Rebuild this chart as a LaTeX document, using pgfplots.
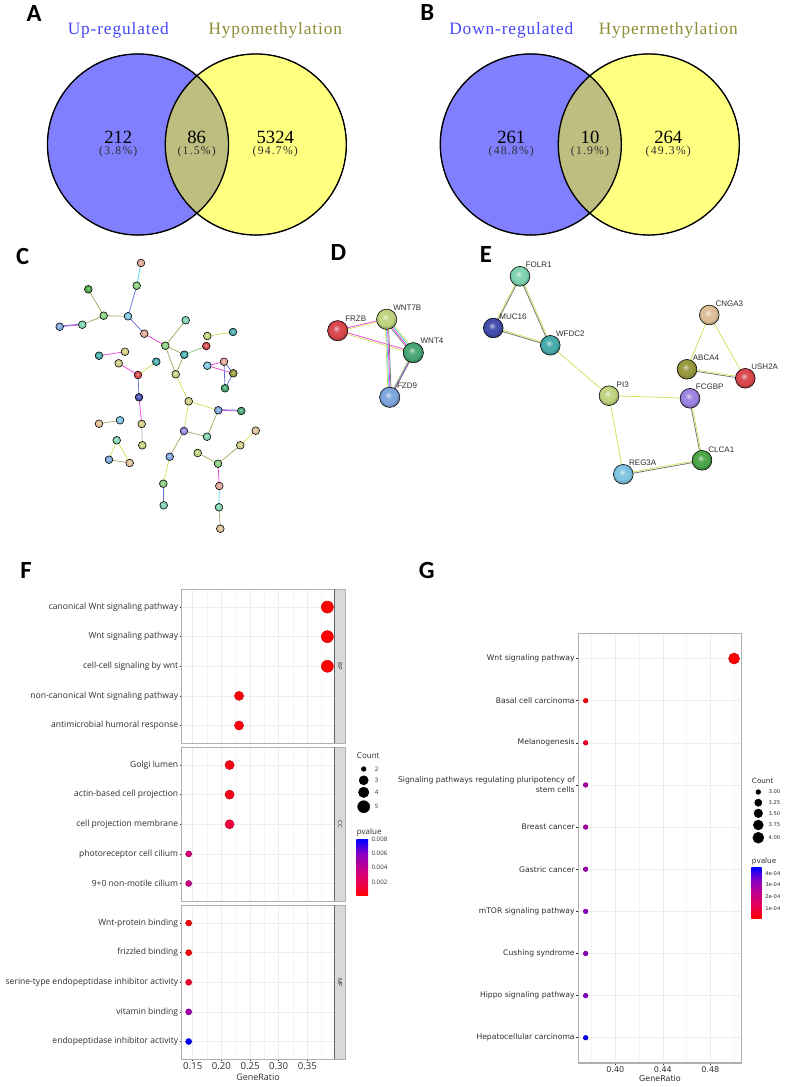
\documentclass[border=0pt]{standalone}
\usepackage{fontspec}
\setmainfont{Open Sans}
\newfontfamily\vennfont{Liberation Serif}
\newfontfamily\arialfont{Liberation Sans}
\newfontfamily\dejavu{DejaVu Sans}
\newfontfamily\panelfont{Carlito}
\usepackage{pgfplots}
\pgfplotsset{compat=1.18}
\usetikzlibrary{shadings}

\definecolor{venblue}{RGB}{128,128,255}
\definecolor{venyel}{RGB}{255,255,128}
\definecolor{venmix}{RGB}{190,190,128}
\definecolor{tblue}{RGB}{70,70,250}
\definecolor{tolive}{RGB}{140,140,50}
\definecolor{txt}{RGB}{45,45,45}
\definecolor{framegr}{RGB}{175,175,175}
\definecolor{stripgr}{RGB}{217,217,217}
\definecolor{edy}{RGB}{205,225,90}
\definecolor{edg}{RGB}{110,110,110}
\definecolor{edm}{RGB}{235,70,225}
\definecolor{edc}{RGB}{80,210,235}
\definecolor{edo}{RGB}{165,170,100}
\definecolor{edb}{RGB}{100,110,215}

\definecolor{nred}{RGB}{215,70,75}
\definecolor{nsal}{RGB}{225,165,150}
\definecolor{ntan}{RGB}{220,190,150}
\definecolor{nkha}{RGB}{205,205,130}
\definecolor{nyel}{RGB}{190,210,125}
\definecolor{noli}{RGB}{150,150,60}
\definecolor{ngre}{RGB}{135,205,125}
\definecolor{ndgr}{RGB}{75,165,70}
\definecolor{nsea}{RGB}{70,165,115}
\definecolor{nmin}{RGB}{125,210,175}
\definecolor{ntea}{RGB}{70,170,170}
\definecolor{nsky}{RGB}{125,195,225}
\definecolor{nblu}{RGB}{125,165,220}
\definecolor{nnav}{RGB}{65,75,170}
\definecolor{npur}{RGB}{155,130,225}

% red to blue the way ggplot runs it, through magenta
\definecolor{rb0}{RGB}{255,0,0}
\definecolor{rb1}{RGB}{232,0,85}
\definecolor{rb2}{RGB}{194,0,140}
\definecolor{rb3}{RGB}{135,0,198}
\definecolor{rb4}{RGB}{0,0,255}
\pgfdeclareverticalshading{rbbar}{100bp}{color(0bp)=(rb0); color(25bp)=(rb0); color(37.5bp)=(rb1); color(50bp)=(rb2); color(62.5bp)=(rb3); color(75bp)=(rb4); color(100bp)=(rb4)}

% paler glossy balls than the stock ball shading
\makeatletter
\pgfdeclareradialshading[tikz@ball]{ball}{\pgfqpoint{-4bp}{6bp}}{color(0bp)=(tikz@ball!35!white); color(9bp)=(tikz@ball!95!white); color(19bp)=(tikz@ball); color(25bp)=(tikz@ball!78!black); color(50bp)=(black)}
\makeatother

% network helpers, all in reference pixels on the canvas axis
\newcommand{\edge}[6][]{\addplot[no marks,forget plot,color=#6,line width=0.55pt,#1] coordinates {(#2,#3) (#4,#5)};}
\newcommand{\ball}[4]{\addplot[only marks,forget plot,mark=ball,mark size=#3pt,ball color=#4] coordinates {(#1,#2)};}
\newcommand{\glabel}[3]{\node[font=\arialfont\fontsize{6}{7}\selectfont,text=txt] at (axis cs:#1,#2) {#3};}
\newcommand{\plabel}[3]{\node[font=\panelfont\bfseries\fontsize{18.5}{20}\selectfont] at (axis cs:#1,#2) {#3};}
\newcommand{\vtitle}[4]{\node[font=\vennfont\fontsize{13}{15}\selectfont\addfontfeature{LetterSpace=5},text=#4] at (axis cs:#1,#2) {#3};}
\newcommand{\vcount}[3]{\node[inner sep=0pt,font=\vennfont\fontsize{14}{14}\selectfont] at (axis cs:#1,137.5) {#2};
  \node[inner sep=0pt,font=\vennfont\fontsize{8.8}{8.8}\selectfont\addfontfeature{LetterSpace=10},text=txt] at (axis cs:#1,151.5) {#3};}
% marks go on top of everything else in one axis, so discs get their own axis
\newcommand{\venndiscs}[2]{%
  \addplot[only marks,forget plot,mark=*,mark size=67.9pt,mark options={fill=venblue,draw=none}] coordinates {(#1,144.5)};
  \addplot[only marks,forget plot,mark=*,mark size=67.9pt,mark options={fill=venyel,draw=none}] coordinates {(#2,144.5)};
}
\newcommand{\vennlens}[2]{%
  \fill[venmix] (axis cs:{(#1+#2)/2},75.9) arc[start angle=49.3,end angle=-49.3,radius=67.9pt]
     arc[start angle=229.3,end angle=130.7,radius=67.9pt] -- cycle;
  \addplot[only marks,forget plot,mark=o,mark size=67.9pt,mark options={draw=black,line width=1pt}] coordinates {(#1,144.5)};
  \addplot[only marks,forget plot,mark=o,mark size=67.9pt,mark options={draw=black,line width=1pt}] coordinates {(#2,144.5)};
}
\newcommand{\legdot}[3]{\addplot[only marks,forget plot,mark=*,mark size=#3pt,black] coordinates {(#1,#2)};}
\newcommand{\ftxt}[4]{\node[anchor=west,inner sep=0pt,font=\fontsize{#4}{#4}\selectfont,text=txt] at (axis cs:#1,#2) {#3};}
\newcommand{\gtxt}[4]{\node[anchor=west,inner sep=0pt,font=\dejavu\fontsize{#4}{#4}\selectfont,text=txt] at (axis cs:#1,#2) {#3};}

\pgfplotsset{
  canvas/.style={
    at={(0,0)},anchor=south west,
    scale only axis,width=590.25pt,height=815.25pt,
    xmin=0,xmax=787,ymin=0,ymax=1087,y dir=reverse,
    hide axis,clip=false,
  },
  dotplot/.style={
    scale only axis,
    tick align=outside,
    xtick pos=bottom,
    ytick pos=left,
    major tick length=1.5pt,
    minor tick length=0pt,
    tick style={color=txt,line width=0.4pt},
    axis line style={draw=framegr,line width=0.9pt},
    grid=both,
    major grid style={draw=black!7,line width=0.4pt},
    minor grid style={draw=black!4,line width=0.3pt},
    colormap={rbgg}{rgb255=(255,0,0) rgb255=(232,0,85) rgb255=(194,0,140) rgb255=(135,0,198) rgb255=(0,0,255)},
    y dir=reverse,
    yticklabel style={text=txt,inner sep=1pt},
    xticklabel style={text=txt,inner sep=1pt,/pgf/number format/fixed,/pgf/number format/fixed zerofill,/pgf/number format/precision=2,/pgf/number format/assume math mode=true},
  },
  fpanel/.style={
    dotplot,
    width=114.45pt,height=115.5pt,
    xmin=0.1308,xmax=0.3971,ymin=0.4,ymax=5.6,
    xtick={0.15,0.20,0.25,0.30,0.35},
    minor xtick={0.175,0.225,0.275,0.325,0.375},
    ytick={1,2,3,4,5},
    point meta min=0,point meta max=0.008,
    yticklabel style={font=\fontsize{6.4}{8}\selectfont},
    after end axis/.code={\draw[color=black!60,line width=0.9pt] (rel axis cs:1,0) -- (rel axis cs:1,1);},
  },
  dots/.style={
    scatter,only marks,mark=*,scatter src=explicit,
    visualization depends on={\thisrow{r} \as \dotr},
    scatter/@pre marker code/.append style={/tikz/mark size=\dotr},
  },
  cbar/.style={
    scale only axis,
    xmin=0,xmax=1,xtick=\empty,
    axis line style={draw=none},
    tick align=inside,ytick pos=both,yticklabel pos=right,
    major tick length=2.2pt,
    tick style={color=white,line width=0.3pt},
    scaled y ticks=false,
    yticklabel style={font=\fontsize{4.6}{5}\selectfont,text=txt,inner sep=1pt,xshift=1.5pt},
  },
}

\begin{document}
\begin{tikzpicture}
\useasboundingbox (0,0) rectangle (590.25pt,815.25pt);

% A and B, flat discs first
\begin{axis}[canvas]
\venndiscs{138}{255.8}
\venndiscs{530.8}{648.8}
\end{axis}
\begin{axis}[canvas]
\vennlens{138}{255.8}
\vennlens{530.8}{648.8}
\vtitle{118.3}{30.5}{Up-regulated}{tblue}
\vtitle{275.3}{30.5}{Hypomethylation}{tolive}
\vtitle{511.3}{30.5}{Down-regulated}{tblue}
\vtitle{668.3}{30.5}{Hypermethylation}{tolive}
\vcount{118.3}{212}{(3.8\%)}
\vcount{196.7}{86}{(1.5\%)}
\vcount{275.3}{5324}{(94.7\%)}
\vcount{511.3}{261}{(48.8\%)}
\vcount{590}{10}{(1.9\%)}
\vcount{668.3}{264}{(49.3\%)}
\end{axis}

% everything else that is not a dot plot lives on the pixel-sized canvas
\begin{axis}[canvas]
\plabel{34}{13.5}{A}
\plabel{427.3}{13}{B}
\plabel{22.7}{256}{C}
\plabel{338.3}{252.7}{D}
\plabel{486}{255}{E}
\plabel{26}{570}{F}
\plabel{426.7}{570}{G}

% C
\edge{141}{263}{136.7}{285.7}{edc}
\edge{136.7}{285.7}{128}{316.3}{edb}
\edge{128}{316.3}{103.7}{315.7}{edo}
\edge{88.3}{289.3}{103.7}{315.7}{edo}
\edge{103.7}{315.7}{82.3}{324.7}{edo}
\edge{82.3}{324.7}{59.7}{326.7}{edm}
\edge[yshift=0.5pt]{82.3}{324.7}{59.7}{326.7}{edb}
\edge{128}{316.3}{144.3}{333.7}{edb}
\edge{144.3}{333.7}{165.3}{345.7}{edm}
\edge{165.3}{345.7}{185.7}{320.3}{edo}
\edge{165.3}{345.7}{184.3}{354.7}{edo}
\edge{165.3}{345.7}{175.7}{374.3}{edo}
\edge{184.3}{354.7}{175.7}{374.3}{edo}
\edge{184.3}{354.7}{206.3}{346}{ngre}
\edge{207.3}{336}{233}{332}{edy}
\edge{99}{355.7}{125}{351.7}{edm}
\edge{118.7}{363.3}{138}{375}{edm}
\edge{156.3}{361.7}{138}{375}{edy}
\edge{138}{375}{139}{397.3}{edb}
\edge{139}{397.3}{141.7}{424}{edm}
\edge{141.7}{424}{142.3}{445.3}{framegr}
\edge{175.7}{374.3}{188.7}{401.3}{edy}
\edge{188.7}{401.3}{218.3}{410.3}{edy}
\edge{188.7}{401.3}{184}{431}{edy}
\edge{218.3}{410.3}{241.3}{411}{edm}
\edge[yshift=0.5pt]{218.3}{410.3}{241.3}{411}{edb}
\edge{218.3}{410.3}{207}{436.7}{edo}
\edge{184}{431}{207}{436.7}{edo}
\edge{184}{431}{169.7}{456.7}{edo}
\edge{169.7}{456.7}{163.3}{483.7}{edy}
\edge{163.3}{483.7}{163.7}{505.3}{edb}
\edge{99}{423.7}{120}{420.3}{edo}
\edge{116.7}{440.3}{109}{459.7}{edy}
\edge{116.7}{440.3}{129.7}{463}{edy}
\edge{109}{459.7}{129.7}{463}{edo}
\edge{197.7}{453}{218}{463.7}{edo}
\edge{218}{463.7}{240.3}{445.3}{edo}
\edge{240.3}{445.3}{255.7}{430.7}{edy}
\edge{218}{463.7}{219.3}{486}{edm}
\edge{219.3}{486}{219}{507.3}{edc}
\edge{219}{507.3}{220.3}{528.7}{edo}
\edge{207.3}{365.7}{224}{361.7}{edm}
\edge{207.3}{365.7}{233.3}{373.3}{edm}
\edge{224}{361.7}{233.3}{373.3}{edb}
\edge{224}{361.7}{225}{388.3}{edb}
\edge{233.3}{373.3}{225}{388.3}{edb}

\ball{141}{263}{2.9}{nsal}
\ball{136.7}{285.7}{2.9}{ngre}
\ball{128}{316.3}{2.9}{nsky}
\ball{88.3}{289.3}{2.9}{ndgr}
\ball{103.7}{315.7}{2.9}{ngre}
\ball{82.3}{324.7}{2.9}{nmin}
\ball{59.7}{326.7}{2.9}{nblu}
\ball{144.3}{333.7}{2.9}{nsal}
\ball{165.3}{345.7}{2.9}{ngre}
\ball{185.7}{320.3}{2.9}{nmin}
\ball{184.3}{354.7}{2.9}{ntea}
\ball{206.3}{346}{2.9}{nred}
\ball{207.3}{336}{2.9}{nyel}
\ball{233}{332}{2.9}{ntea}
\ball{99}{355.7}{2.9}{ntea}
\ball{125}{351.7}{2.9}{nkha}
\ball{118.7}{363.3}{2.9}{nkha}
\ball{156.3}{361.7}{2.9}{ntea}
\ball{138}{375}{2.9}{nred}
\ball{175.7}{374.3}{2.9}{nyel}
\ball{207.3}{365.7}{2.9}{nsky}
\ball{224}{361.7}{2.9}{nsal}
\ball{233.3}{373.3}{2.9}{noli}
\ball{225}{388.3}{2.9}{nsea}
\ball{139}{397.3}{2.9}{nnav}
\ball{188.7}{401.3}{2.9}{nkha}
\ball{218.3}{410.3}{2.9}{nblu}
\ball{241.3}{411}{2.9}{nsea}
\ball{141.7}{424}{2.9}{nkha}
\ball{99}{423.7}{2.9}{ntan}
\ball{120}{420.3}{2.9}{nsky}
\ball{184}{431}{2.9}{npur}
\ball{207}{436.7}{2.9}{nmin}
\ball{255.7}{430.7}{2.9}{ntan}
\ball{240.3}{445.3}{2.9}{nkha}
\ball{142.3}{445.3}{2.9}{nyel}
\ball{116.7}{440.3}{2.9}{nmin}
\ball{109}{459.7}{2.9}{nblu}
\ball{129.7}{463}{2.9}{ntan}
\ball{197.7}{453}{2.9}{nyel}
\ball{169.7}{456.7}{2.9}{nblu}
\ball{218}{463.7}{2.9}{ngre}
\ball{219.3}{486}{2.9}{nsal}
\ball{163.3}{483.7}{2.9}{ngre}
\ball{163.7}{505.3}{2.9}{nmin}
\ball{219}{507.3}{2.9}{nmin}
\ball{220.3}{528.7}{2.9}{ntan}

% D
\edge[xshift=0.4pt,yshift=0.6pt]{337.7}{330.7}{386.7}{319.3}{edm}
\edge[xshift=-0.4pt,yshift=-0.6pt]{337.7}{330.7}{386.7}{319.3}{edy}
\edge[yshift=-0.6pt]{337.7}{330.7}{413.3}{352.7}{edy}
\edge[yshift=0.6pt]{337.7}{330.7}{413.3}{352.7}{edm}
\edge[xshift=1.2pt,yshift=0.9pt]{386.7}{319.3}{413.3}{352.7}{edy}
\edge[xshift=0.4pt,yshift=0.3pt]{386.7}{319.3}{413.3}{352.7}{edc}
\edge[xshift=-0.4pt,yshift=-0.3pt]{386.7}{319.3}{413.3}{352.7}{edm}
\edge[xshift=-1.2pt,yshift=-0.9pt]{386.7}{319.3}{413.3}{352.7}{edg}
\edge[xshift=-1.2pt]{386.7}{319.3}{389.7}{397.3}{edy}
\edge[xshift=-0.4pt]{386.7}{319.3}{389.7}{397.3}{edc}
\edge[xshift=0.4pt]{386.7}{319.3}{389.7}{397.3}{edm}
\edge[xshift=1.2pt]{386.7}{319.3}{389.7}{397.3}{edg}
\edge[xshift=-1.2pt,yshift=-0.9pt]{413.3}{352.7}{389.7}{397.3}{edy}
\edge[xshift=-0.4pt,yshift=-0.3pt]{413.3}{352.7}{389.7}{397.3}{edc}
\edge[xshift=0.4pt,yshift=0.3pt]{413.3}{352.7}{389.7}{397.3}{edm}
\edge[xshift=1.2pt,yshift=0.9pt]{413.3}{352.7}{389.7}{397.3}{edg}
\ball{337.7}{330.7}{7.6}{nred}
\ball{386.7}{319.3}{7.6}{nyel}
\ball{413.3}{352.7}{7.6}{nsea}
\ball{389.7}{397.3}{7.6}{nblu}
\glabel{355.7}{319}{FRZB}
\glabel{407.3}{307.3}{WNT7B}
\glabel{432}{340.7}{WNT4}
\glabel{407}{385.7}{FZD9}

% E
\edge[xshift=0.5pt]{520}{276.3}{493.3}{328}{edg}
\edge[xshift=-0.5pt]{520}{276.3}{493.3}{328}{edy}
\edge[xshift=-0.5pt]{520}{276.3}{550.3}{345.3}{edg}
\edge[xshift=0.5pt]{520}{276.3}{550.3}{345.3}{edy}
\edge[yshift=-0.5pt]{493.3}{328}{550.3}{345.3}{edg}
\edge[yshift=0.5pt]{493.3}{328}{550.3}{345.3}{edy}
\edge{550.3}{345.3}{609}{395.7}{edy}
\edge{609}{395.7}{690}{398.3}{edy}
\edge{609}{395.7}{623.3}{474.3}{edy}
\edge[yshift=-0.5pt]{623.3}{474.3}{702}{460.3}{edg}
\edge[yshift=0.5pt]{623.3}{474.3}{702}{460.3}{edy}
\edge[xshift=-0.5pt]{702}{460.3}{690}{398.3}{edg}
\edge[xshift=0.5pt]{702}{460.3}{690}{398.3}{edy}
\edge{709.3}{315}{687}{369.3}{edy}
\edge{709.3}{315}{745.3}{378.3}{edy}
\edge[yshift=-0.5pt]{687}{369.3}{745.3}{378.3}{edg}
\edge[yshift=0.5pt]{687}{369.3}{745.3}{378.3}{edy}
\ball{520}{276.3}{7.4}{nmin}
\ball{493.3}{328}{7.4}{nnav}
\ball{550.3}{345.3}{7.4}{ntea}
\ball{609}{395.7}{7.4}{nyel}
\ball{690}{398.3}{7.4}{npur}
\ball{709.3}{315}{7.4}{ntan}
\ball{687}{369.3}{7.4}{noli}
\ball{745.3}{378.3}{7.4}{nred}
\ball{702}{460.3}{7.4}{ndgr}
\ball{623.3}{474.3}{7.4}{nsky}
\glabel{538.7}{265}{FOLR1}
\glabel{513}{316.3}{MUC16}
\glabel{570.3}{334}{WFDC2}
\glabel{622.7}{384.3}{PI3}
\glabel{709.7}{387}{FCGBP}
\glabel{729.3}{303.7}{CNGA3}
\glabel{706}{357.7}{ABCA4}
\glabel{764.7}{367}{USH2A}
\glabel{721.3}{449.3}{CLCA1}
\glabel{642.7}{463}{REG3A}

% facet strips of F
\addplot[fill=stripgr,draw=framegr,line width=0.9pt,forget plot] coordinates {(334.3,589.3) (345.7,589.3) (345.7,743.3) (334.3,743.3)} --cycle;
\addplot[fill=stripgr,draw=framegr,line width=0.9pt,forget plot] coordinates {(334.3,747.3) (345.7,747.3) (345.7,901.3) (334.3,901.3)} --cycle;
\addplot[fill=stripgr,draw=framegr,line width=0.9pt,forget plot] coordinates {(334.3,905.3) (345.7,905.3) (345.7,1059.3) (334.3,1059.3)} --cycle;
\node[rotate=-90,font=\fontsize{4.5}{5}\selectfont,text=txt] at (axis cs:340,666.3) {BP};
\node[rotate=-90,font=\fontsize{4.5}{5}\selectfont,text=txt] at (axis cs:340,824.3) {CC};
\node[rotate=-90,font=\fontsize{4.5}{5}\selectfont,text=txt] at (axis cs:340,982.3) {MF};

% size legends
\ftxt{356.7}{756}{Count}{6}
\legdot{363.7}{769}{1.75}
\legdot{363.7}{780.3}{3.4}
\legdot{363.7}{792.3}{3.9}
\legdot{363.7}{806.7}{4.5}
\ftxt{374.7}{769}{2}{4.6}
\ftxt{374.7}{780.3}{3}{4.6}
\ftxt{374.7}{792.3}{4}{4.6}
\ftxt{374.7}{806.7}{5}{4.6}
\ftxt{356.7}{832.3}{pvalue}{6}
\gtxt{751.7}{780.7}{Count}{5.4}
\legdot{758.3}{792}{1.75}
\legdot{758.3}{802.7}{2.7}
\legdot{758.3}{813.3}{3.2}
\legdot{758.3}{825}{3.7}
\legdot{758.3}{837.7}{4.1}
\gtxt{768.3}{792}{3.00}{3.9}
\gtxt{768.3}{802.7}{3.25}{3.9}
\gtxt{768.3}{813.3}{3.50}{3.9}
\gtxt{768.3}{825}{3.75}{3.9}
\gtxt{768.3}{837.7}{4.00}{3.9}
\gtxt{751.7}{861.3}{pvalue}{5.4}
\end{axis}

% F: BP
\begin{axis}[fpanel,at={(136.3pt,257.8pt)},anchor=south west,
  xmajorticks=false,
  yticklabels={canonical Wnt signaling pathway,Wnt signaling pathway,cell-cell signaling by wnt,non-canonical Wnt signaling pathway,antimicrobial humoral response}]
\addplot[dots] table[x=x,y=y,meta=p]{
x y p r
0.385 1 0.00005 4.5
0.385 2 0.00005 4.5
0.385 3 0.00005 4.5
0.2308 4 0.00025 3.4
0.2308 5 0.00025 3.4
};
\end{axis}
% F: CC
\begin{axis}[fpanel,at={(136.3pt,139.3pt)},anchor=south west,
  xmajorticks=false,
  yticklabels={Golgi lumen,actin-based cell projection,cell projection membrane,photoreceptor cell cilium,9+0 non-motile cilium}]
\addplot[dots] table[x=x,y=y,meta=p]{
x y p r
0.2143 1 0.0005 3.4
0.2143 2 0.0006 3.4
0.2143 3 0.0014 3.4
0.1429 4 0.0032 2.25
0.1429 5 0.0038 2.25
};
\end{axis}
% F: MF
\begin{axis}[fpanel,at={(136.3pt,20.8pt)},anchor=south west,
  xlabel={GeneRatio},
  xlabel style={font=\fontsize{6.7}{8}\selectfont,text=txt,inner sep=0pt,yshift=-2pt},
  xticklabel style={font=\fontsize{7.2}{8}\selectfont},
  yticklabels={Wnt-protein binding,frizzled binding,serine-type endopeptidase inhibitor activity,vitamin binding,endopeptidase inhibitor activity}]
\addplot[dots] table[x=x,y=y,meta=p]{
x y p r
0.1429 1 0.00015 2.25
0.1429 2 0.00015 2.25
0.1429 3 0.0011 2.25
0.1429 4 0.0052 2.25
0.1429 5 0.008 2.25
};
\end{axis}
% F: colour bar
\begin{axis}[cbar,at={(267.2pt,143.25pt)},anchor=south west,width=8.8pt,height=42.5pt,
  ymin=0,ymax=0.008,ytick={0.002,0.004,0.006,0.008},
  yticklabels={0.002,0.004,0.006,0.008}]
\shade[shading=rbbar] (rel axis cs:0,0) rectangle (rel axis cs:1,1);
\end{axis}

% G
\begin{axis}[dotplot,at={(433.7pt,18pt)},anchor=south west,
  width=122.55pt,height=322.3pt,
  xmin=0.3688,xmax=0.5064,ymin=0.4,ymax=10.6,
  xtick={0.40,0.44,0.48},
  minor xtick={0.38,0.42,0.46,0.50},
  ytick={1,2,3,4,5,6,7,8,9,10},
  point meta min=0.00001,point meta max=0.00045,
  yticklabel style={font=\dejavu\fontsize{5.75}{7.2}\selectfont,align=right},
  xticklabel style={font=\dejavu\fontsize{6}{7}\selectfont},
  xlabel={GeneRatio},
  xlabel style={font=\dejavu\fontsize{6}{7}\selectfont,text=txt,inner sep=0pt,yshift=-0.5pt},
  yticklabels={Wnt signaling pathway,Basal cell carcinoma,Melanogenesis,{Signaling pathways regulating pluripotency of\\stem cells},Breast cancer,Gastric cancer,mTOR signaling pathway,Cushing syndrome,Hippo signaling pathway,Hepatocellular carcinoma}]
\addplot[dots] table[x=x,y=y,meta=p]{
x y p r
0.5 1 0.00001 4.1
0.375 2 0.00002 1.75
0.375 3 0.00006 1.75
0.375 4 0.00027 1.75
0.375 5 0.00028 1.75
0.375 6 0.00030 1.75
0.375 7 0.00033 1.75
0.375 8 0.00033 1.75
0.375 9 0.00034 1.75
0.375 10 0.00045 1.75
};
\end{axis}
% G: colour bar
\begin{axis}[cbar,at={(563.5pt,126pt)},anchor=south west,width=7.8pt,height=38.8pt,
  ymin=0.00001,ymax=0.00045,ytick={0.0001,0.0002,0.0003,0.0004},
  yticklabels={1e-04,2e-04,3e-04,4e-04},
  yticklabel style={font=\dejavu\fontsize{3.9}{5}\selectfont}]
\shade[shading=rbbar] (rel axis cs:0,0) rectangle (rel axis cs:1,1);
\end{axis}
\end{tikzpicture}
\end{document}
